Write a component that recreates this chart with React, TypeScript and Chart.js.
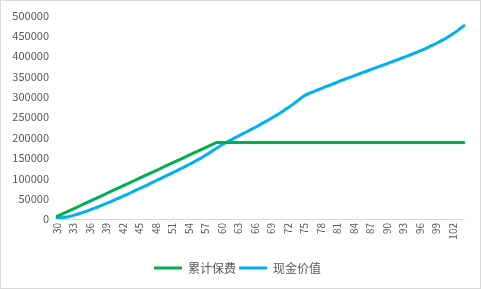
import React, { useEffect, useRef } from "react";
import { Chart, registerables } from "chart.js";

Chart.register(...registerables);

const ages: string[] = [];
for (let a = 30; a <= 104; a++) ages.push(String(a));

const premiumLabel = "累计保费";
const cashLabel = "现金价值";

const premium: number[] = [
  6270, 12540, 18810, 25080, 31350, 37620, 43890, 50160, 56430, 62700,
  68970, 75240, 81510, 87780, 94050, 100320, 106590, 112860, 119130, 125400,
  131670, 137940, 144210, 150480, 156750, 163020, 169290, 175560, 181830, 188100,
  188100, 188100, 188100, 188100, 188100, 188100, 188100, 188100, 188100, 188100,
  188100, 188100, 188100, 188100, 188100, 188100, 188100, 188100, 188100, 188100,
  188100, 188100, 188100, 188100, 188100, 188100, 188100, 188100, 188100, 188100,
  188100, 188100, 188100, 188100, 188100, 188100, 188100, 188100, 188100, 188100,
  188100, 188100, 188100, 188100, 188100,
];

const cashValue: number[] = [
  3000, 3500, 5500, 9000, 13000, 17500, 22500, 27500, 33000, 38500,
  44000, 50000, 56000, 62000, 68500, 75000, 81000, 87500, 94000, 100500,
  107000, 113500, 120000, 127000, 134000, 141000, 148500, 156500, 165000, 174000,
  182500, 190000, 197000, 204000, 211000, 218000, 225000, 232500, 240000, 248000,
  256000, 264500, 273500, 283000, 293000, 303500, 309500, 315000, 320500, 326000,
  331000, 336500, 342000, 347000, 352000, 357000, 362000, 367000, 372000, 377000,
  382000, 387000, 392000, 397000, 402000, 407500, 413000, 419000, 425500, 432000,
  439000, 447000, 455500, 465000, 475500,
];

const yTicks = { min: 0, max: 500000, step: 50000 };

export default function App() {
  const ref = useRef<HTMLCanvasElement | null>(null);
  useEffect(() => {
    document.body.style.margin = "0";
    const font = "'Noto Sans CJK SC', 'Noto Sans', sans-serif";
    const chart = new Chart(ref.current as HTMLCanvasElement, {
      type: "line",
      data: {
        labels: ages,
        datasets: [
          {
            label: premiumLabel,
            data: premium,
            borderColor: "#00B050",
            backgroundColor: "#00B050",
            borderWidth: 3,
            pointRadius: 0,
            tension: 0,
            borderCapStyle: "round",
          },
          {
            label: cashLabel,
            data: cashValue,
            borderColor: "#00B0F0",
            backgroundColor: "#00B0F0",
            borderWidth: 3,
            pointRadius: 0,
            cubicInterpolationMode: "monotone",
            borderCapStyle: "round",
          },
        ],
      },
      options: {
        responsive: false,
        animation: false,
        layout: { padding: { left: 9, right: 15, top: 14, bottom: 4 } },
        plugins: {
          legend: {
            position: "bottom",
            labels: {
              usePointStyle: true,
              pointStyle: "line",
              pointStyleWidth: 28,
              boxHeight: 12,
              padding: 3,
              color: "#595959",
              font: { family: font, size: 12 },
            },
          },
          tooltip: { enabled: false },
        },
        scales: {
          x: {
            offset: false,
            grid: { display: false, drawTicks: false },
            border: { display: true, color: "#d9d9d9", width: 1 },
            ticks: {
              autoSkip: false,
              minRotation: 90,
              maxRotation: 90,
              padding: 4,
              color: "#595959",
              font: { family: font, size: 10 },
              callback: function (this: any, value: any, index: number) {
                return index % 3 === 0 ? this.getLabelForValue(value) : "";
              },
            },
            afterFit: (s: any) => {
              s.height = 40;
            },
          },
          y: {
            min: yTicks.min,
            max: yTicks.max,
            grid: { display: false, drawTicks: false },
            border: { display: false },
            ticks: {
              stepSize: yTicks.step,
              padding: 8,
              color: "#595959",
              font: { family: font, size: 11 },
              callback: (v: any) => String(v),
            },
            afterFit: (s: any) => {
              s.width = 47;
            },
          },
        },
      },
    });
    return () => chart.destroy();
  }, []);
  return (
    <div
      style={{
        position: "fixed",
        left: 0,
        top: 0,
        width: 481,
        height: 289,
        boxSizing: "border-box",
        border: "1px solid #d9d9d9",
        background: "#fff",
      }}
    >
      <canvas ref={ref} width={479} height={287} style={{ display: "block" }} />
    </div>
  );
}
